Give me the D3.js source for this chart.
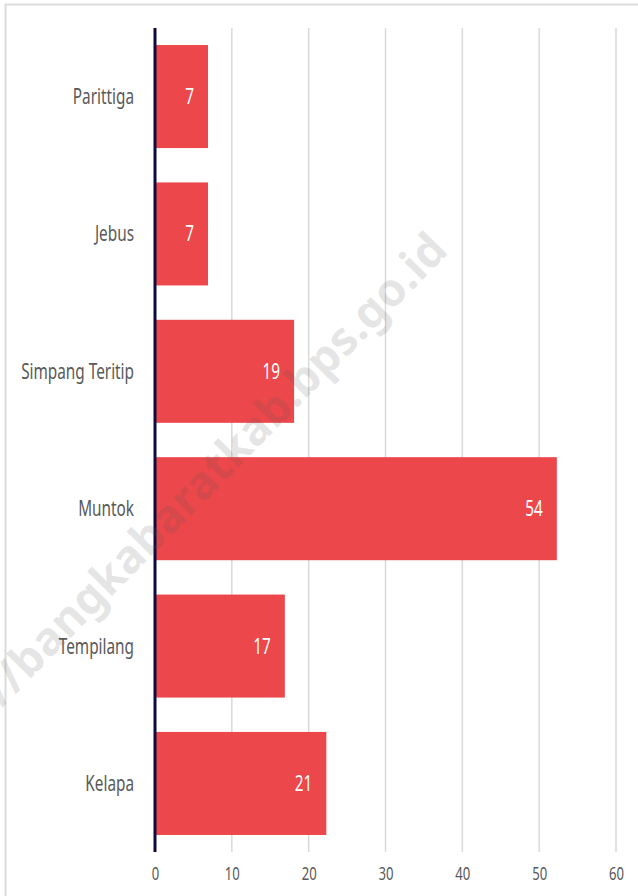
<!DOCTYPE html>
<html>
<head>
<meta charset="utf-8">
<script src="https://cdn.jsdelivr.net/npm/d3@7"></script>
<style>
  body { margin: 0; background: #fff; }
  text { font-family: "Noto Sans", "Open Sans", sans-serif; }
</style>
</head>
<body>
<svg width="638" height="896"></svg>
<script>
"use strict";

const categories = ["Parittiga", "Jebus", "Simpang Teritip", "Muntok", "Tempilang", "Kelapa"];
const values = [6.9, 6.9, 18.1, 52.3, 16.9, 22.3];
const valueLabels = ["7", "7", "19", "54", "17", "21"];
const ticks = [0, 10, 20, 30, 40, 50, 60];

const svg = d3.select("svg");
const squeeze = 0.73; // narrow the font, the original uses a condensed face

// frame
svg.append("rect")
  .attr("x", 5.5).attr("y", 4.5)
  .attr("width", 640).attr("height", 900)
  .attr("fill", "#fff")
  .attr("stroke", "#dcdcdc")
  .attr("stroke-width", 2);

const x = d3.scaleLinear().domain([0, 60]).range([155, 616]);
const y = d3.scaleBand()
  .domain(categories)
  .range([28, 852])
  .paddingInner(0.25)
  .paddingOuter(0.124);

// gridlines
svg.append("g")
  .selectAll("line")
  .data(ticks.slice(1))
  .enter()
  .append("line")
  .attr("x1", d => x(d)).attr("x2", d => x(d))
  .attr("y1", 28).attr("y2", 852)
  .attr("stroke", "#d9d9d9")
  .attr("stroke-width", 1.5);

// bars
svg.append("g")
  .selectAll("rect")
  .data(values)
  .enter()
  .append("rect")
  .attr("x", x(0))
  .attr("y", (d, i) => y(categories[i]))
  .attr("width", d => x(d) - x(0))
  .attr("height", y.bandwidth())
  .attr("fill", "#ec474a");

// value labels
svg.append("g")
  .selectAll("text")
  .data(values)
  .enter()
  .append("text")
  .attr("transform", (d, i) =>
    `translate(${x(d) - 14},${y(categories[i]) + y.bandwidth() / 2}) scale(${squeeze},1)`)
  .attr("dy", "0.36em")
  .attr("text-anchor", "end")
  .attr("fill", "#fff")
  .attr("font-size", 21)
  .text((d, i) => valueLabels[i]);

// category axis labels
svg.append("g")
  .selectAll("text")
  .data(categories)
  .enter()
  .append("text")
  .attr("transform", d => `translate(134,${y(d) + y.bandwidth() / 2}) scale(${squeeze},1)`)
  .attr("dy", "0.36em")
  .attr("text-anchor", "end")
  .attr("fill", "#595959")
  .attr("font-size", 21)
  .text(d => d);

// zero line
svg.append("line")
  .attr("x1", x(0)).attr("x2", x(0))
  .attr("y1", 28).attr("y2", 852)
  .attr("stroke", "#0c0a40")
  .attr("stroke-width", 3);

// x axis
const xAxis = d3.axisBottom(x).tickValues(ticks).tickSize(0).tickPadding(0);
const xAxisG = svg.append("g")
  .attr("transform", "translate(0,867)")
  .call(xAxis);
xAxisG.select(".domain").remove();
xAxisG.selectAll("text")
  .attr("font-size", 18)
  .attr("fill", "#595959")
  .attr("dy", "0.71em")
  .attr("transform", `scale(${squeeze},1)`)
  .style("font-family", '"Noto Sans", "Open Sans", sans-serif');

// watermark
svg.append("text")
  .attr("transform", "translate(450,252) rotate(-45.5)")
  .attr("text-anchor", "end")
  .attr("font-size", 46)
  .attr("font-weight", "bold")
  .attr("fill", "rgba(90,90,90,0.16)")
  .text("http://bangkabaratkab.bps.go.id");
</script>
</body>
</html>
